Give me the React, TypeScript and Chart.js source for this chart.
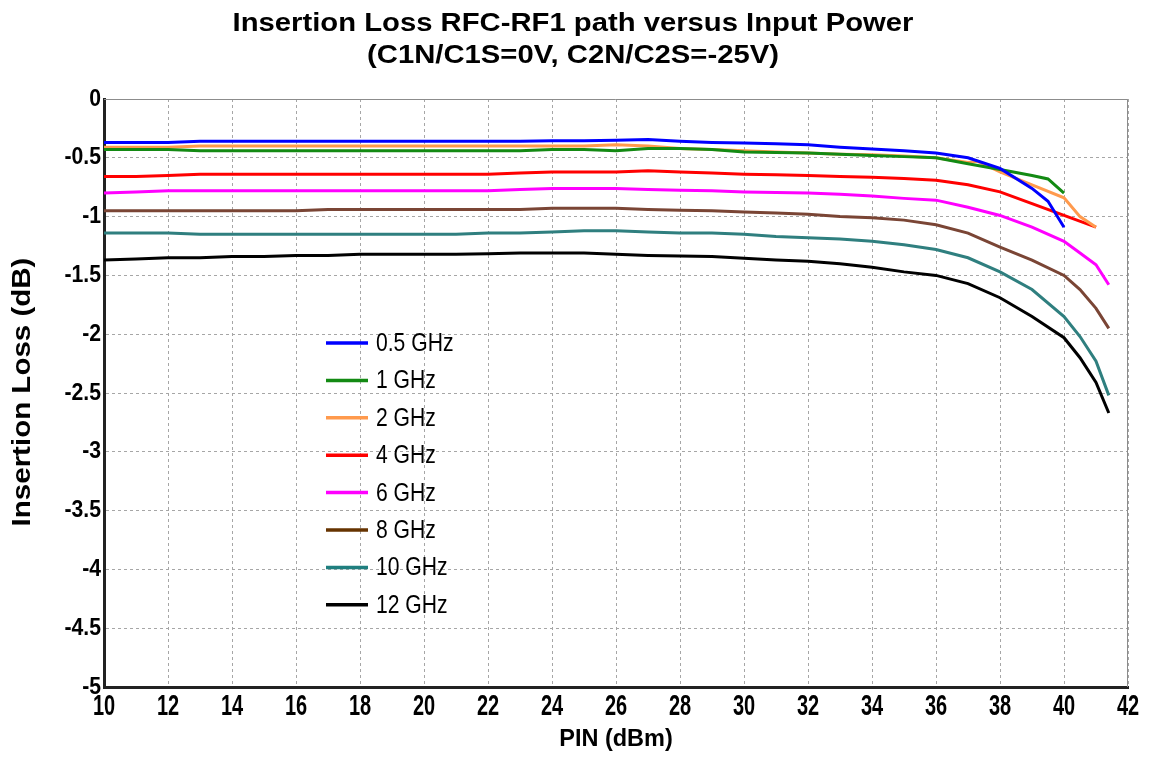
import React, { useEffect, useRef } from "react";
import { Chart, registerables } from "chart.js";

Chart.register(...registerables);

const TITLE_LINES = ["Insertion Loss RFC-RF1 path versus Input Power", "(C1N/C1S=0V, C2N/C2S=-25V)"];
const X_TITLE = "PIN (dBm)";
const Y_TITLE = "Insertion Loss (dB)";

const SERIES_LABELS = ["0.5 GHz", "1 GHz", "2 GHz", "4 GHz", "6 GHz", "8 GHz", "10 GHz", "12 GHz"];
const SERIES_COLORS = ["#0000ff", "#138a13", "#ff9a4d", "#ff0000", "#ff00ff", "#7a4535", "#2f7f7f", "#000000"];
const LEGEND_COLORS = ["#0000ff", "#138a13", "#ff9a4d", "#ff0000", "#ff00ff", "#663300", "#1f7f7f", "#000000"];

const PIN_05 = [10, 11, 12, 13, 14, 15, 16, 17, 18, 19, 20, 21, 22, 23, 24, 25, 26, 27, 28, 29, 30, 31, 32, 33, 34, 35, 36, 37, 38, 39, 39.5, 40];
const LOSS_05 = [-0.37, -0.37, -0.37, -0.36, -0.36, -0.36, -0.36, -0.36, -0.36, -0.36, -0.36, -0.36, -0.36, -0.36, -0.355, -0.355, -0.35, -0.345, -0.36, -0.37, -0.375, -0.38, -0.39, -0.41, -0.425, -0.44, -0.46, -0.5, -0.59, -0.76, -0.87, -1.09];

const PIN_1 = [10, 11, 12, 13, 14, 15, 16, 17, 18, 19, 20, 21, 22, 23, 24, 25, 26, 27, 28, 29, 30, 31, 32, 33, 34, 35, 36, 37, 38, 39, 39.5, 40];
const LOSS_1 = [-0.43, -0.43, -0.43, -0.44, -0.44, -0.44, -0.44, -0.44, -0.44, -0.44, -0.44, -0.44, -0.44, -0.44, -0.43, -0.43, -0.44, -0.42, -0.42, -0.43, -0.45, -0.455, -0.46, -0.47, -0.48, -0.49, -0.5, -0.55, -0.6, -0.65, -0.68, -0.8];

const PIN_2 = [10, 11, 12, 13, 14, 15, 16, 17, 18, 19, 20, 21, 22, 23, 24, 25, 26, 27, 28, 29, 30, 31, 32, 33, 34, 35, 36, 37, 37.3, 38, 39, 40, 40.5, 41];
const LOSS_2 = [-0.41, -0.41, -0.41, -0.4, -0.4, -0.4, -0.4, -0.4, -0.4, -0.4, -0.4, -0.4, -0.4, -0.4, -0.4, -0.4, -0.39, -0.4, -0.42, -0.43, -0.44, -0.45, -0.46, -0.47, -0.475, -0.485, -0.5, -0.54, -0.53, -0.62, -0.73, -0.84, -1.0, -1.09];

const PIN_4 = [10, 11, 12, 13, 14, 15, 16, 17, 18, 19, 20, 21, 22, 23, 24, 25, 26, 27, 28, 29, 30, 31, 32, 33, 34, 35, 36, 37, 38, 39, 40, 41];
const LOSS_4 = [-0.66, -0.66, -0.65, -0.64, -0.64, -0.64, -0.64, -0.64, -0.64, -0.64, -0.64, -0.64, -0.64, -0.63, -0.62, -0.62, -0.62, -0.61, -0.62, -0.63, -0.64, -0.645, -0.65, -0.66, -0.665, -0.675, -0.69, -0.73, -0.79, -0.89, -0.99, -1.09];

const PIN_6 = [10, 11, 12, 13, 14, 15, 16, 17, 18, 19, 20, 21, 22, 23, 24, 25, 26, 27, 28, 29, 30, 31, 32, 33, 34, 35, 36, 37, 38, 39, 40, 40.5, 41, 41.4];
const LOSS_6 = [-0.8, -0.79, -0.78, -0.78, -0.78, -0.78, -0.78, -0.78, -0.78, -0.78, -0.78, -0.78, -0.78, -0.77, -0.76, -0.76, -0.76, -0.77, -0.775, -0.78, -0.79, -0.795, -0.8, -0.81, -0.825, -0.845, -0.86, -0.92, -0.99, -1.09, -1.21, -1.31, -1.41, -1.58];

const PIN_8 = [10, 11, 12, 13, 14, 15, 16, 17, 18, 19, 20, 21, 22, 23, 24, 25, 26, 27, 28, 29, 30, 31, 32, 33, 34, 35, 36, 37, 38, 39, 40, 40.5, 41, 41.4];
const LOSS_8 = [-0.95, -0.95, -0.95, -0.95, -0.95, -0.95, -0.95, -0.94, -0.94, -0.94, -0.94, -0.94, -0.94, -0.94, -0.93, -0.93, -0.93, -0.94, -0.945, -0.95, -0.96, -0.97, -0.98, -1.0, -1.01, -1.03, -1.07, -1.14, -1.26, -1.37, -1.5, -1.62, -1.78, -1.95];

const PIN_10 = [10, 11, 12, 13, 14, 15, 16, 17, 18, 19, 20, 21, 22, 23, 24, 25, 26, 27, 28, 29, 30, 31, 32, 33, 34, 35, 36, 37, 38, 39, 40, 40.5, 41, 41.4];
const LOSS_10 = [-1.14, -1.14, -1.14, -1.15, -1.15, -1.15, -1.15, -1.15, -1.15, -1.15, -1.15, -1.15, -1.14, -1.14, -1.13, -1.12, -1.12, -1.13, -1.14, -1.14, -1.15, -1.17, -1.18, -1.19, -1.21, -1.24, -1.28, -1.35, -1.47, -1.62, -1.85, -2.02, -2.23, -2.52];

const PIN_12 = [10, 11, 12, 13, 14, 15, 16, 17, 18, 19, 20, 21, 22, 23, 24, 25, 26, 27, 28, 29, 30, 31, 32, 33, 34, 35, 36, 37, 38, 39, 40, 40.5, 41, 41.4];
const LOSS_12 = [-1.37, -1.36, -1.35, -1.35, -1.34, -1.34, -1.33, -1.33, -1.32, -1.32, -1.32, -1.32, -1.315, -1.31, -1.31, -1.31, -1.32, -1.33, -1.335, -1.34, -1.355, -1.37, -1.38, -1.4, -1.43, -1.47, -1.5, -1.57, -1.69, -1.85, -2.03, -2.2, -2.41, -2.67];

const SERIES_PIN = [PIN_05, PIN_1, PIN_2, PIN_4, PIN_6, PIN_8, PIN_10, PIN_12];
const SERIES_LOSS = [LOSS_05, LOSS_1, LOSS_2, LOSS_4, LOSS_6, LOSS_8, LOSS_10, LOSS_12];

const X_MIN = 10;
const X_MAX = 42;
const X_STEP = 2;
const Y_MIN = -5;
const Y_MAX = 0;
const Y_STEP = 0.5;

const SANS = '"Liberation Sans", Arial, Helvetica, sans-serif';

function drawText(
  ctx: CanvasRenderingContext2D,
  text: string,
  x: number,
  y: number,
  font: string,
  sx: number,
  sy: number,
  align: CanvasTextAlign,
  rotate = 0
) {
  ctx.save();
  ctx.translate(x, y);
  if (rotate) ctx.rotate(rotate);
  ctx.scale(sx, sy);
  ctx.font = font;
  ctx.textAlign = align;
  ctx.textBaseline = "middle";
  ctx.fillStyle = "#000";
  ctx.fillText(text, 0, 0);
  ctx.restore();
}

const fmt = (v: number) => String(Math.round(v * 100) / 100);

const textPlugin = {
  id: "customText",
  afterDraw(chart: any) {
    const { ctx, chartArea } = chart;
    ctx.save();
    // frame (top / right in gray)
    ctx.strokeStyle = "#8c8c8c";
    ctx.lineWidth = 1;
    ctx.beginPath();
    ctx.moveTo(chartArea.left, chartArea.top + 0.5);
    ctx.lineTo(chartArea.right - 0.5, chartArea.top + 0.5);
    ctx.lineTo(chartArea.right - 0.5, chartArea.bottom);
    ctx.stroke();
    ctx.restore();

    // tick labels, positioned by the chart's scales
    const xs = chart.scales.x;
    const ys = chart.scales.y;
    xs.ticks.forEach((t: any) => {
      const px = xs.getPixelForValue(t.value);
      drawText(ctx, fmt(t.value), px, chartArea.bottom + 20, `bold 20px ${SANS}`, 1.0, 1.5, "center");
    });
    ys.ticks.forEach((t: any) => {
      const py = ys.getPixelForValue(t.value);
      drawText(ctx, fmt(t.value), chartArea.left - 3, py, `bold 20px ${SANS}`, 1.06, 1.2, "right");
    });

    // title
    drawText(ctx, TITLE_LINES[0], 573, 24, `bold 25px ${SANS}`, 1.17, 1.0, "center");
    drawText(ctx, TITLE_LINES[1], 573, 56, `bold 25px ${SANS}`, 1.17, 1.0, "center");

    // axis titles
    drawText(ctx, X_TITLE, 616, 740, `bold 23.5px ${SANS}`, 1.0, 1.0, "center");
    drawText(ctx, Y_TITLE, 23, 392, `bold 25px ${SANS}`, 1.18, 1.0, "center", -Math.PI / 2);

    // legend
    const lx = chartArea.left + 222;
    const ly = chartArea.top + 244;
    const rowH = 37.4;
    SERIES_LABELS.forEach((lab, i) => {
      const y = ly + i * rowH;
      ctx.save();
      ctx.strokeStyle = LEGEND_COLORS[i];
      ctx.lineWidth = 3.5;
      ctx.beginPath();
      ctx.moveTo(lx, y);
      ctx.lineTo(lx + 42, y);
      ctx.stroke();
      ctx.restore();
      drawText(ctx, lab, lx + 50, y + 1, `20.5px ${SANS}`, 1.03, 1.25, "left");
    });
  },
};

export default function App() {
  const ref = useRef<HTMLCanvasElement | null>(null);

  useEffect(() => {
    if (!ref.current) return;
    const datasets = SERIES_LABELS.map((label, i) => ({
      label,
      data: SERIES_PIN[i].map((x, j) => ({ x, y: SERIES_LOSS[i][j] })),
      borderColor: SERIES_COLORS[i],
      backgroundColor: SERIES_COLORS[i],
      borderWidth: 3,
      pointRadius: 0,
      tension: 0,
      fill: false,
    }));

    const chart = new Chart(ref.current, {
      type: "line",
      data: { datasets },
      options: {
        animation: false,
        responsive: false,
        maintainAspectRatio: false,
        layout: { padding: { top: 99, right: 21, left: 0, bottom: 0 } },
        plugins: {
          legend: { display: false },
          title: { display: false },
          tooltip: { enabled: false },
        },
        scales: {
          x: {
            type: "linear",
            min: X_MIN,
            max: X_MAX,
            afterFit: (s: any) => {
              s.height = 74;
            },
            ticks: { stepSize: X_STEP, display: false },
            grid: { color: "#a6a6a6", lineWidth: 1, drawTicks: false },
            border: { color: "#222", width: 3, dash: [3, 3] },
          },
          y: {
            type: "linear",
            min: Y_MIN,
            max: Y_MAX,
            afterFit: (s: any) => {
              s.width = 104;
            },
            ticks: { stepSize: Y_STEP, display: false },
            grid: { color: "#a6a6a6", lineWidth: 1, drawTicks: false },
            border: { color: "#222", width: 3, dash: [3, 3] },
          },
        },
      } as any,
      plugins: [textPlugin],
    });

    return () => chart.destroy();
  }, []);

  return (
    <div style={{ position: "fixed", left: 0, top: 0, width: 1149, height: 761, background: "#fff" }}>
      <canvas ref={ref} width={1149} height={761} style={{ width: 1149, height: 761 }} />
    </div>
  );
}
